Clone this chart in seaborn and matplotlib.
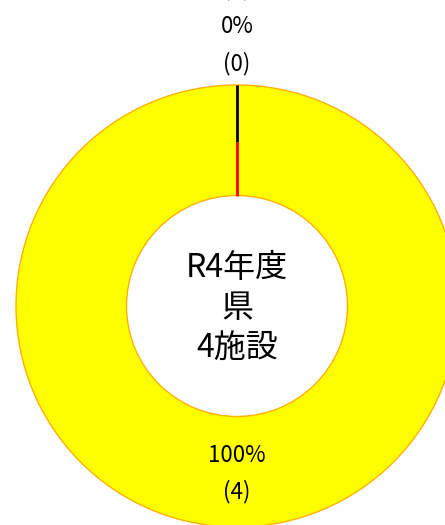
import numpy as np
import matplotlib
matplotlib.use("Agg")
import matplotlib.pyplot as plt
import seaborn as sns

# Data
categories = ["区分A", "区分B", "区分C"]
values = [4, 0, 0]
wedge_colors = ["#FFFF00", "#000000", "#FF0000"]
center_lines = ["R4年度", "県", "4施設"]

sns.set_theme(style="white")
plt.rcParams['font.family'] = ['Noto Sans CJK JP', 'DejaVu Sans']

W, H = 445, 525
fig = plt.figure(figsize=(W / 100, H / 100), dpi=100)
ax = fig.add_axes([0, 0, 1, 1])
cx, cy, R = 237.0, 306.0, 221.0

total = sum(values)
ax.pie(values, colors=wedge_colors, startangle=90, counterclock=False,
       radius=1.0, wedgeprops=dict(width=0.5, edgecolor="#FFB000", linewidth=1.0))

ax.set_xlim(-cx / R, (W - cx) / R)
ax.set_ylim(-(H - cy) / R, cy / R)
ax.set_aspect('auto')
ax.axis('off')

# zero-value slices drawn as radial strokes at their angle
cum = np.cumsum([0] + values)
for i, v in enumerate(values):
    if v == 0:
        ang = np.deg2rad(90 - 360 * cum[i] / total)
        if wedge_colors[i] == "#000000":
            r0, r1 = 1.0, 0.74
        else:
            r0, r1 = 0.74, 0.5
        ax.plot([r0 * np.cos(ang), r1 * np.cos(ang)], [r0 * np.sin(ang), r1 * np.sin(ang)],
                color=wedge_colors[i], lw=2.0, solid_capstyle='butt', zorder=5)

# labels
def lab(v):
    return f"{round(100 * v / total)}%\n({v})"

ax.text(0, 1.52, lab(values[2]), ha='center', va='center', fontsize=16, linespacing=1.7, color='black')
ax.text(0, 1.18, lab(values[1]), ha='center', va='center', fontsize=16, linespacing=1.7, color='black')
ax.text(0, -0.758, lab(values[0]), ha='center', va='center', fontsize=16, linespacing=1.7, color='black')

ax.text(0, -0.01, "\n".join(center_lines), ha='center', va='center', fontsize=23,
        linespacing=1.33, color='black')

fig.savefig("out.png", dpi=100)
